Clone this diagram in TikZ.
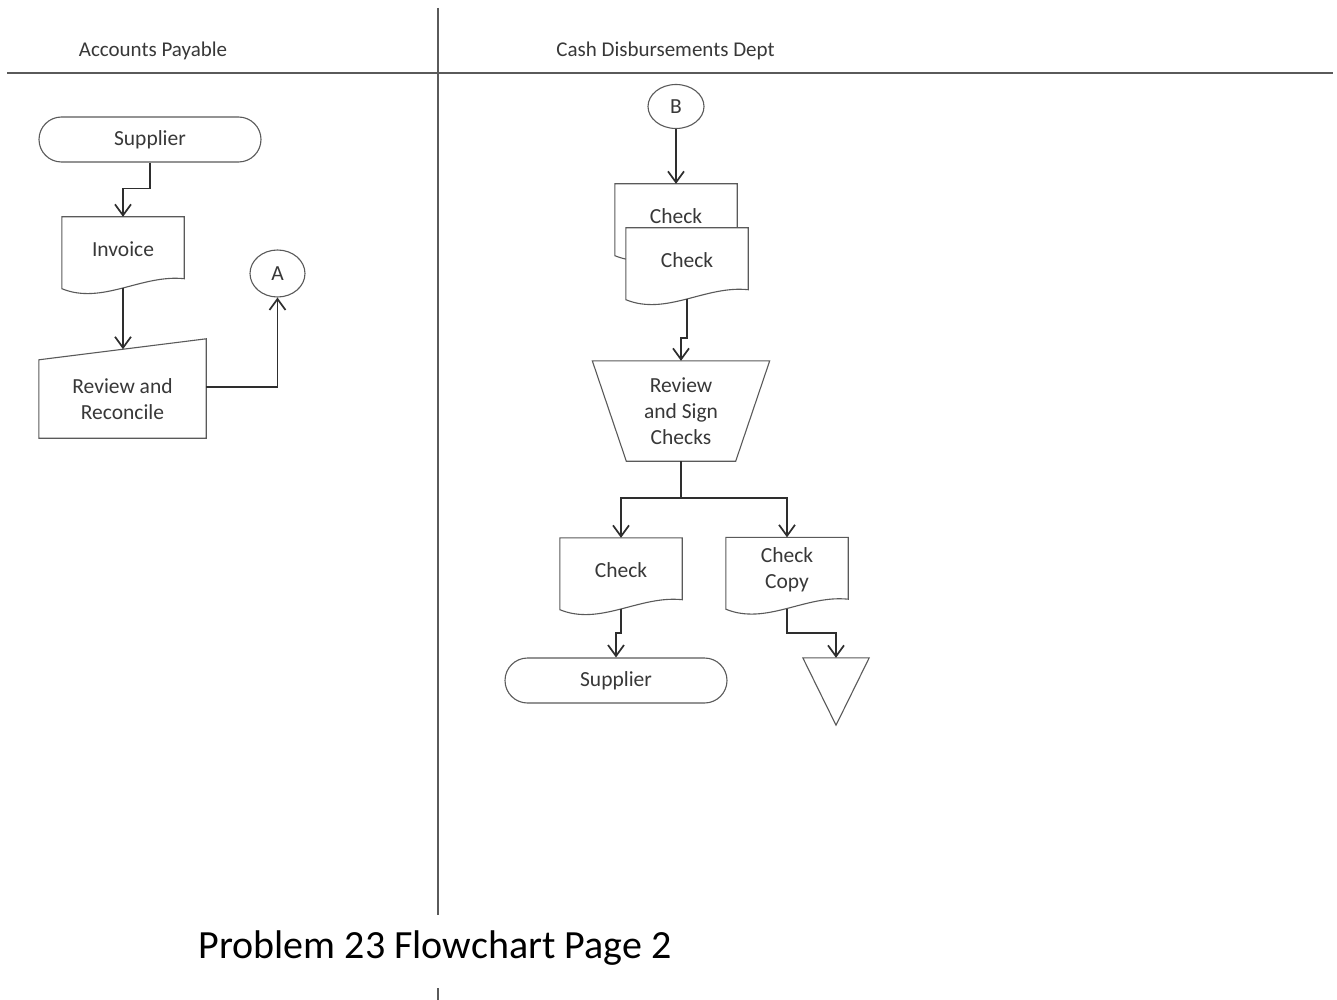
\documentclass[tikz,border=0pt]{standalone}
\usepackage{fontspec}
\setmainfont{Carlito}
\usetikzlibrary{arrows.meta,shapes.geometric,calc,backgrounds}
\definecolor{edgegray}{HTML}{5A5A5A}
\definecolor{flowline}{HTML}{2E2E2E}
\definecolor{labelgray}{HTML}{383838}

\tikzset{
  lbl/.style={font=\fontsize{21.5}{26}\selectfont, text=labelgray, align=center, inner sep=0pt},
  shapeline/.style={draw=edgegray, line width=1.1pt},
  docbox/.style={lbl, minimum width=122pt, minimum height=64pt},
  term/.style={lbl, shapeline, rounded corners=22.5pt, minimum width=222pt, minimum height=45pt},
  conn/.style={ellipse, lbl, shapeline},
  flowplain/.style={draw=flowline, line width=1.9pt},
  flow/.style={flowplain, -{Straight Barb[length=11pt,width=16pt,line width=1.7pt]}},
  lane/.style={draw=edgegray, line width=1.4pt},
}

% document symbol: rectangle with a wavy bottom edge, drawn round a node
\newcommand\docoutline[2][]{%
  \draw[shapeline,#1] ($(#2.south west)+(0,7.5)$) -- (#2.north west) -- (#2.north east)
    -- ($(#2.south east)+(0,-2.5)$)
    .. controls ($(#2.south east)!0.35!(#2.south west)+(0,-7)$)
       and ($(#2.south west)!0.33!(#2.south east)+(0,24)$)
    .. ($(#2.south west)+(0,7.5)$) -- cycle;}

\begin{document}
\begin{tikzpicture}[x=1pt,y=-1pt]
\useasboundingbox (0,0) rectangle (1337,1000);

% swim lanes
\draw[lane] (438,8) -- (438,915);
\draw[lane] (438,988) -- (438,1000);
\draw[lane] (7,73) -- (1333,73);
\node[lbl, font=\fontsize{21}{25}\selectfont] (hap) at (153,51) {Accounts Payable};
\node[lbl, font=\fontsize{21}{25}\selectfont] (hcd) at (665.5,51) {Cash Disbursements Dept};

% Accounts Payable lane
\node[term] (sup1) at (150,139.5) {\raisebox{-1.5pt}{Supplier}};
\node[docbox] (inv) at (123,249) {Invoice};
\node[lbl, minimum width=167pt, minimum height=78pt] (rev1) at (122.5,399) {Review and\\Reconcile};
\node[conn, minimum width=55pt, minimum height=47pt] (A) at (277.5,273.5) {A};

% Cash Disbursements lane
\node[conn, minimum width=56pt, minimum height=44pt] (B) at (676,106.5) {B};
\node[docbox] (chk0) at (676,216) {Check};
\node[docbox] (chk1) at (687,260) {Check};
\node[lbl, minimum width=177pt, minimum height=100pt] (rsc) at (681,411) {Review\\and Sign\\Checks};
\node[docbox] (chk2) at (621,570) {Check};
\node[docbox] (ccopy) at (787,569.5) {Check\\Copy};
\node[term] (sup2) at (616,680.5) {\raisebox{-1.5pt}{Supplier}};
\node[minimum width=66pt, minimum height=67pt, inner sep=0pt] (file) at (836,691.5) {};

\begin{scope}[on background layer]
  \fill[white] (0,0) rectangle (1337,1000);
  \docoutline{inv}
  \draw[shapeline] (rev1.south west) -- (rev1.north west)
    -- ($(rev1.north east)+(0,-21)$) -- (rev1.south east) -- cycle;
  \docoutline{chk0}
  \docoutline[fill=white]{chk1}
  \draw[shapeline] (rsc.north west) -- (rsc.north east)
    -- ($(rsc.south east)+(-34,0)$) -- ($(rsc.south west)+(34,0)$) -- cycle;
  \docoutline{chk2}
  \docoutline{ccopy}
  \draw[shapeline] (file.north west) -- (file.north east) -- (file.south) -- cycle;
\end{scope}

% flow lines
\draw[flow] (sup1.south) -- ++(0,26) -| (inv.north);
\draw[flow] ($(inv.south)+(0,7)$) -- ++(0,61);
\draw[flow] ($(rev1.east)+(0,-12)$) -| (A.south);
\draw[flow] (B.south) -- (chk0.north);
\draw[flow] ($(chk1.south)+(0,7)$) -- ++(0,39) -| (rsc.north);
\draw[flowplain] (rsc.south) -- ++(0,37) coordinate (split);
\draw[flow] (split) -| (chk2.north);
\draw[flow] (split) -| (ccopy.north);
\draw[flow] ($(chk2.south)+(0,7)$) -- ++(0,24) -| (sup2.north);
\draw[flow] ($(ccopy.south)+(0,7)$) -- ++(0,24.5) -| (file.north);

% caption
\node[font=\fontsize{40}{48}\selectfont, text=black] (title) at (435,948) {Problem 23 Flowchart Page 2};
\end{tikzpicture}
\end{document}
